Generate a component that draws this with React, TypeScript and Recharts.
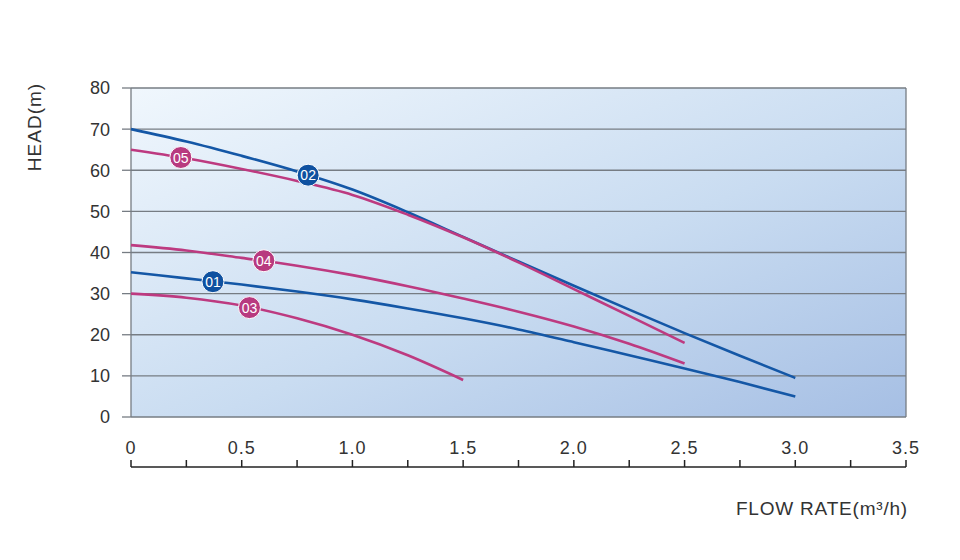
import React from 'react';
import { LineChart, Line, XAxis, YAxis, CartesianGrid, ReferenceDot } from 'recharts';

// pump curves, head (m) against flow rate (m3/h)
const curve01 = [
  { q: 0, h: 35.2 }, { q: 0.25, h: 33.7 }, { q: 0.5, h: 32.2 }, { q: 0.75, h: 30.5 },
  { q: 1.0, h: 28.6 }, { q: 1.25, h: 26.4 }, { q: 1.5, h: 24 }, { q: 1.75, h: 21.3 },
  { q: 2.0, h: 18.2 }, { q: 2.25, h: 15 }, { q: 2.5, h: 11.8 }, { q: 2.75, h: 8.5 },
  { q: 3.0, h: 5 },
];
const curve02 = [
  { q: 0, h: 70 }, { q: 0.25, h: 67 }, { q: 0.5, h: 63.5 }, { q: 0.75, h: 59.7 },
  { q: 1.0, h: 55.3 }, { q: 1.25, h: 49.8 }, { q: 1.5, h: 43.8 }, { q: 1.75, h: 37.8 },
  { q: 2.0, h: 31.9 }, { q: 2.25, h: 26.1 }, { q: 2.5, h: 20.4 }, { q: 2.75, h: 14.9 },
  { q: 3.0, h: 9.5 },
];
const curve03 = [
  { q: 0, h: 30 }, { q: 0.25, h: 29 }, { q: 0.5, h: 27.1 }, { q: 0.75, h: 24 },
  { q: 1.0, h: 20 }, { q: 1.25, h: 15 }, { q: 1.5, h: 9 },
];
const curve04 = [
  { q: 0, h: 41.8 }, { q: 0.25, h: 40.5 }, { q: 0.5, h: 38.7 }, { q: 0.75, h: 36.8 },
  { q: 1.0, h: 34.5 }, { q: 1.25, h: 31.8 }, { q: 1.5, h: 28.8 }, { q: 1.75, h: 25.6 },
  { q: 2.0, h: 22 }, { q: 2.25, h: 17.8 }, { q: 2.5, h: 13 },
];
const curve05 = [
  { q: 0, h: 65 }, { q: 0.25, h: 62.9 }, { q: 0.5, h: 60.3 }, { q: 0.75, h: 57.4 },
  { q: 1.0, h: 54 }, { q: 1.25, h: 49.2 }, { q: 1.5, h: 43.7 }, { q: 1.75, h: 37.6 },
  { q: 2.0, h: 31.1 }, { q: 2.25, h: 24.6 }, { q: 2.5, h: 18 },
];

const markers = [
  { id: '01', q: 0.37, h: 32.9, blue: true },
  { id: '02', q: 0.8, h: 58.8, blue: true },
  { id: '03', q: 0.535, h: 26.6, blue: false },
  { id: '04', q: 0.6, h: 38, blue: false },
  { id: '05', q: 0.225, h: 63.1, blue: false },
];

const xTicks = [0, 0.5, 1.0, 1.5, 2.0, 2.5, 3.0, 3.5];
const minorTicks = [0, 0.25, 0.5, 0.75, 1.0, 1.25, 1.5, 1.75, 2.0, 2.25, 2.5, 2.75, 3.0, 3.25, 3.5];
const yTicks = [0, 10, 20, 30, 40, 50, 60, 70, 80];

const BLUE = '#1457a6';
const PINK = '#bd3a80';
const FONT = '"Liberation Sans", Arial, sans-serif';

const W = 960;
const H = 560;
const MARGIN = { top: 88, right: 54, bottom: 63, left: 0 };
const SCALE_H = 30;
const SCALE_Y = H - MARGIN.bottom - SCALE_H; // where the flow scale line sits

const Marker = (props: any) => {
  const { cx, cy, fill, id } = props;
  return (
    <g>
      <circle cx={cx} cy={cy} r={11} fill={fill} stroke="#ffffff" strokeWidth={1} />
      <text x={cx} y={cy + 5} textAnchor="middle" fill="#ffffff" fontSize={14} fontFamily={FONT}>
        {id}
      </text>
    </g>
  );
};

export default function App() {
  return (
    <div style={{ position: 'absolute', left: 0, top: 0, background: '#ffffff' }}>
      <LineChart width={W} height={H} margin={MARGIN}>
        <defs>
          <linearGradient id="bg" x1="0" y1="0" x2="1" y2="1">
            <stop offset="0%" stopColor="#f0f7fd" />
            <stop offset="55%" stopColor="#c9dcf1" />
            <stop offset="100%" stopColor="#a6bfe4" />
          </linearGradient>
        </defs>
        <CartesianGrid stroke="#767c83" strokeWidth={1.3} fill="url(#bg)" fillOpacity={1} />
        <XAxis
          xAxisId="main"
          dataKey="q"
          type="number"
          domain={[0, 3.5]}
          ticks={xTicks}
          tickFormatter={(v: number) => (v === 0 ? '0' : v.toFixed(1))}
          axisLine={false}
          tickLine={false}
          tickSize={0}
          tickMargin={24}
          height={50}
          allowDuplicatedCategory={false}
          tick={{ fill: '#333333', fontSize: 18, fontFamily: FONT, letterSpacing: 1 }}
        />
        <XAxis
          xAxisId="scale"
          dataKey="q"
          type="number"
          domain={[0, 3.5]}
          ticks={minorTicks}
          interval={0}
          tick={(p: any) => (
            <g>
              <line x1={p.x} x2={p.x} y1={SCALE_Y} y2={SCALE_Y - 7} stroke="#222222" strokeWidth={1.5} />
            </g>
          )}
          tickSize={0}
          tickMargin={0}
          tickLine={false}
          axisLine={{ stroke: '#222222', strokeWidth: 1.5 }}
          height={SCALE_H}
          label={{
            content: (p: any) => (
              <text
                x={p.viewBox.x + p.viewBox.width + 2}
                y={p.viewBox.y + 48}
                textAnchor="end"
                fill="#333333"
                fontSize={19}
                letterSpacing={0.8}
                fontFamily={FONT}
              >
                FLOW RATE(m³/h)
              </text>
            ),
          }}
        />
        <YAxis
          dataKey="h"
          type="number"
          domain={[0, 80]}
          ticks={yTicks}
          width={131}
          axisLine={false}
          tickSize={9}
          tickMargin={12}
          tickLine={{ stroke: '#767c83', strokeWidth: 1.3 }}
          tick={{ fill: '#333333', fontSize: 18, fontFamily: FONT }}
          label={{
            content: () => (
              <text
                x={41}
                y={127}
                transform="rotate(-90 41 127)"
                textAnchor="middle"
                fill="#333333"
                fontSize={19}
                letterSpacing={1}
                fontFamily={FONT}
              >
                HEAD(m)
              </text>
            ),
          }}
        />
        {/* invisible series so the flow scale axis gets its ticks */}
        <Line xAxisId="scale" data={curve01} dataKey="h" stroke="none" dot={false} activeDot={false} legendType="none" isAnimationActive={false} />
        <Line xAxisId="main" data={curve01} dataKey="h" type="monotone" stroke={BLUE} strokeWidth={2.6} dot={false} isAnimationActive={false} />
        <Line xAxisId="main" data={curve02} dataKey="h" type="monotone" stroke={BLUE} strokeWidth={2.6} dot={false} isAnimationActive={false} />
        <Line xAxisId="main" data={curve03} dataKey="h" type="monotone" stroke={PINK} strokeWidth={2.6} dot={false} isAnimationActive={false} />
        <Line xAxisId="main" data={curve04} dataKey="h" type="monotone" stroke={PINK} strokeWidth={2.6} dot={false} isAnimationActive={false} />
        <Line xAxisId="main" data={curve05} dataKey="h" type="monotone" stroke={PINK} strokeWidth={2.6} dot={false} isAnimationActive={false} />
        {markers.map((m) => (
          <ReferenceDot
            key={m.id}
            xAxisId="main"
            x={m.q}
            y={m.h}
            r={11}
            fill={m.blue ? '#0f51a0' : '#b83a7f'}
            shape={(p: any) => <Marker {...p} fill={m.blue ? '#0f51a0' : '#b83a7f'} id={m.id} />}
          />
        ))}
      </LineChart>
    </div>
  );
}
